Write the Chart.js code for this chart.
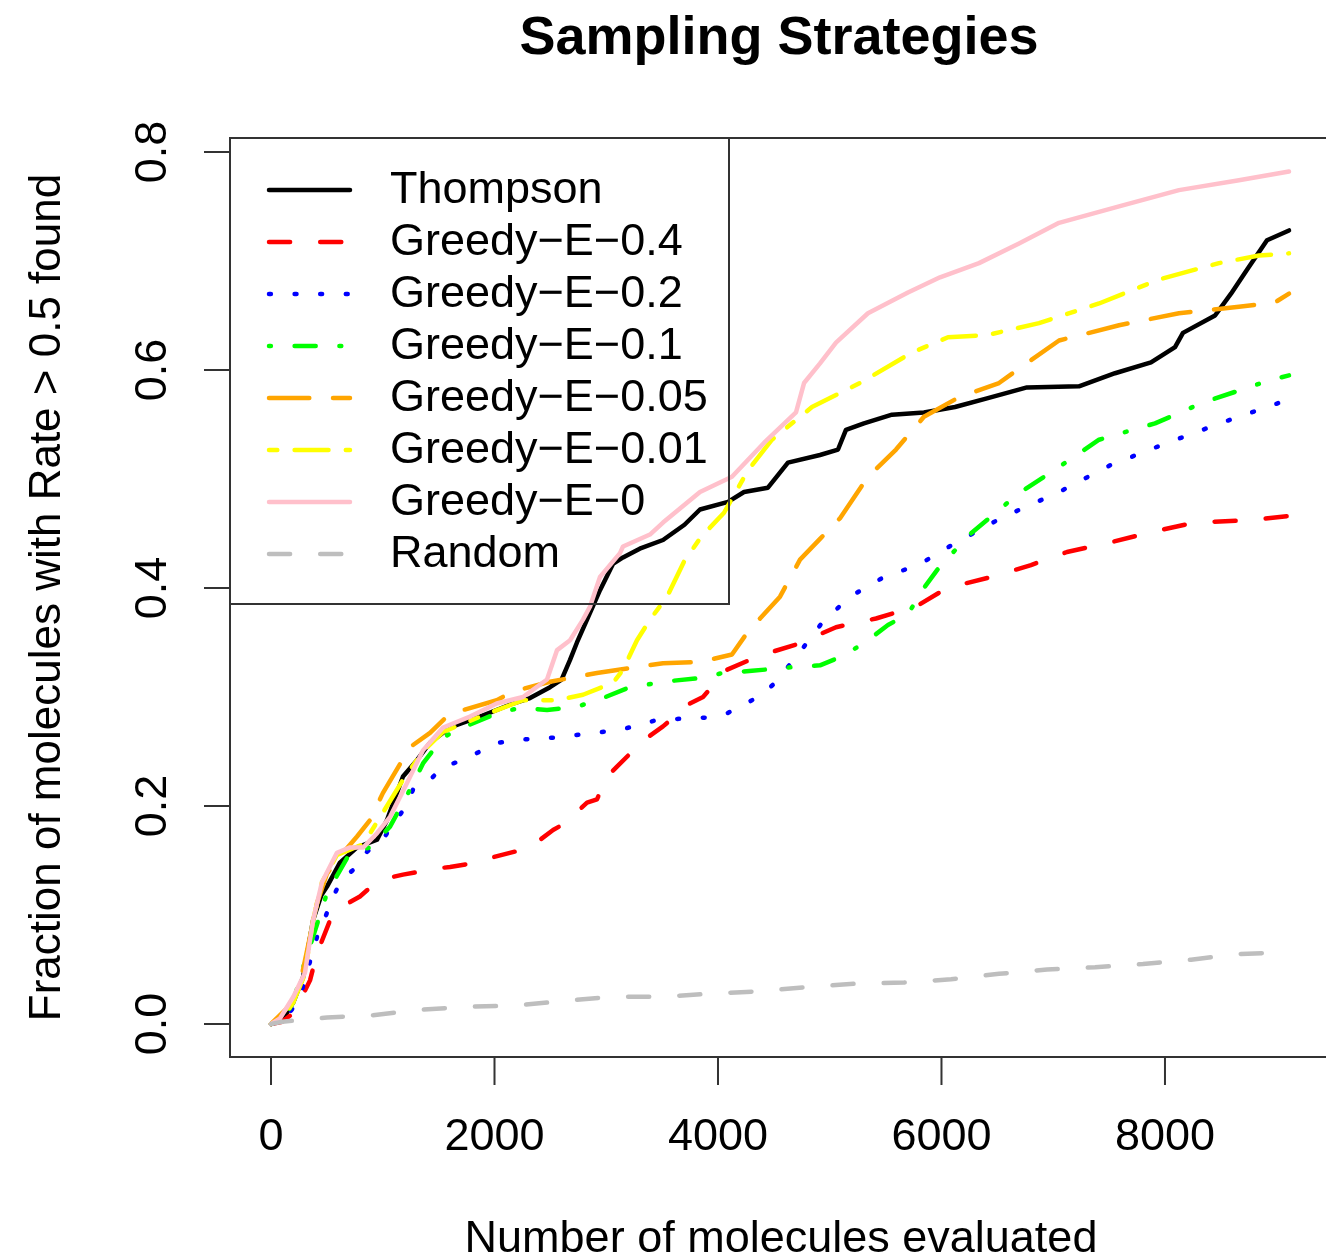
<!DOCTYPE html>
<html>
<head>
<meta charset="utf-8">
<script src="https://cdn.jsdelivr.net/npm/chart.js@4.4.1/dist/chart.umd.min.js"></script>
<style>
  html, body { margin: 0; padding: 0; background: #fff; overflow: hidden; }
  #wrap { width: 1326px; height: 1259px; }
</style>
</head>
<body>
<div id="wrap"><canvas id="c" width="1326" height="1259"></canvas></div>
<script>
// values: [molecules evaluated, fraction found]
const xTicks = [0, 2000, 4000, 6000, 8000];
const yTicks = [0, 0.2, 0.4, 0.6, 0.8];
const seriesNames = ['Thompson', 'Greedy\u2212E\u22120.4', 'Greedy\u2212E\u22120.2', 'Greedy\u2212E\u22120.1',
  'Greedy\u2212E\u22120.05', 'Greedy\u2212E\u22120.01', 'Greedy\u2212E\u22120', 'Random'];

const thompson = [[0,0],[100,0.003],[200,0.02],[287,0.043],[376,0.095],[450,0.118],[501,0.126],[617,0.148],[770,0.162],[949,0.169],[1038,0.187],[1181,0.227],[1306,0.242],[1423,0.258],[1602,0.272],[1870,0.282],[2165,0.294],[2318,0.299],[2497,0.309],[2600,0.316],[2676,0.334],[2738,0.35],[2828,0.371],[2944,0.398],[3060,0.422],[3150,0.428],[3300,0.436],[3508,0.444],[3700,0.458],[3839,0.472],[4090,0.479],[4233,0.488],[4447,0.492],[4626,0.515],[4913,0.522],[5074,0.527],[5145,0.545],[5306,0.551],[5557,0.559],[5843,0.561],[6121,0.566],[6407,0.574],[6765,0.584],[7230,0.585],[7553,0.597],[7875,0.607],[8090,0.621],[8161,0.634],[8448,0.65],[8591,0.67],[8734,0.692],[8913,0.719],[9110,0.728]];
const greedy04 = [[0,0],[100,0.002],[200,0.01],[277,0.025],[349,0.04],[412,0.065],[528,0.095],[590,0.105],[796,0.117],[886,0.125],[1092,0.135],[1181,0.137],[1512,0.143],[1602,0.144],[1897,0.149],[1987,0.153],[2255,0.16],[2318,0.162],[2524,0.178],[2613,0.183],[2828,0.203],[2917,0.206],[3007,0.227],[3096,0.236],[3213,0.248],[3302,0.258],[3508,0.273],[3749,0.294],[3866,0.3],[4081,0.325],[4376,0.338],[4698,0.348],[5056,0.364],[5414,0.372],[5772,0.383],[6050,0.4],[6443,0.41],[6801,0.421],[7123,0.433],[7517,0.442],[7911,0.452],[8269,0.46],[8734,0.462],[9110,0.466]];
const greedy02 = [[0,0],[100,0.002],[200,0.015],[260,0.025],[412,0.08],[501,0.102],[555,0.117],[644,0.134],[770,0.144],[859,0.158],[1002,0.169],[1092,0.184],[1199,0.198],[1271,0.215],[1423,0.224],[1540,0.236],[1718,0.242],[1870,0.25],[2031,0.258],[2246,0.261],[2452,0.262],[2658,0.264],[2873,0.267],[3060,0.269],[3257,0.273],[3454,0.279],[3660,0.28],[3884,0.281],[4081,0.285],[4233,0.293],[4376,0.301],[4501,0.312],[4716,0.339],[4931,0.368],[5181,0.392],[5468,0.409],[5808,0.422],[6103,0.44],[6550,0.465],[7052,0.488],[7517,0.513],[8018,0.533],[8519,0.552],[9110,0.573]];
const greedy01 = [[0,0],[100,0.003],[200,0.02],[260,0.043],[376,0.08],[501,0.12],[707,0.157],[886,0.162],[1065,0.181],[1244,0.215],[1360,0.239],[1540,0.263],[1718,0.272],[2020,0.285],[2228,0.29],[2470,0.288],[2738,0.291],[2971,0.299],[3186,0.308],[3508,0.314],[3812,0.317],[4045,0.322],[4304,0.324],[4626,0.327],[4913,0.329],[5128,0.338],[5342,0.352],[5521,0.366],[5700,0.376],[5843,0.4],[5987,0.42],[6264,0.45],[6694,0.487],[7052,0.511],[7410,0.536],[7911,0.551],[8340,0.57],[8949,0.591],[9110,0.595]];
const greedy005 = [[0,0],[200,0.02],[287,0.05],[412,0.111],[501,0.138],[644,0.157],[770,0.172],[886,0.187],[1002,0.212],[1244,0.254],[1423,0.267],[1602,0.285],[1718,0.288],[2020,0.297],[2165,0.305],[2497,0.314],[2917,0.322],[3508,0.331],[3839,0.332],[4125,0.339],[4269,0.36],[4376,0.372],[4555,0.392],[4734,0.426],[4913,0.445],[5092,0.464],[5342,0.502],[5593,0.527],[5843,0.557],[6157,0.575],[6515,0.588],[6801,0.609],[7052,0.627],[7589,0.641],[8125,0.652],[8662,0.658],[8984,0.662],[9110,0.67]];
const greedy001 = [[0,0],[100,0.004],[200,0.02],[300,0.045],[376,0.095],[456,0.13],[590,0.155],[707,0.16],[826,0.165],[1002,0.194],[1181,0.224],[1360,0.25],[1540,0.268],[1897,0.283],[2255,0.297],[2560,0.297],[2792,0.302],[3060,0.313],[3150,0.325],[3275,0.352],[3392,0.371],[3544,0.392],[3700,0.425],[3850,0.447],[4054,0.469],[4269,0.508],[4483,0.536],[4841,0.566],[5271,0.588],[5736,0.616],[6058,0.63],[6407,0.632],[6873,0.643],[7410,0.661],[7946,0.683],[8483,0.698],[8841,0.705],[9110,0.707]];
const greedy0 = [[0,0],[80,0.005],[200,0.025],[304,0.047],[376,0.095],[456,0.13],[590,0.157],[707,0.162],[826,0.162],[949,0.175],[1065,0.19],[1217,0.221],[1360,0.251],[1540,0.272],[1781,0.282],[2020,0.294],[2255,0.3],[2470,0.316],[2560,0.343],[2676,0.352],[2792,0.371],[2855,0.383],[2944,0.41],[3123,0.432],[3150,0.438],[3391,0.449],[3508,0.46],[3839,0.488],[4125,0.502],[4411,0.533],[4698,0.561],[4770,0.588],[4913,0.606],[5056,0.625],[5342,0.652],[5700,0.671],[5987,0.685],[6336,0.698],[6694,0.716],[7052,0.735],[7589,0.75],[8125,0.765],[8662,0.774],[9110,0.782]];
const random = [[0,0],[100,0.002],[501,0.006],[913,0.008],[1333,0.013],[1781,0.016],[2201,0.017],[2613,0.021],[3060,0.025],[3508,0.025],[3955,0.028],[4376,0.03],[4805,0.034],[5235,0.037],[5665,0.038],[6085,0.041],[6515,0.046],[6944,0.05],[7374,0.052],[7803,0.055],[8233,0.059],[8627,0.064],[9110,0.066]];

const seriesData = [thompson, greedy04, greedy02, greedy01, greedy005, greedy001, greedy0, random];
const seriesColors = ['#000000', '#ff0000', '#0000ff', '#00ff00', '#ffa500', '#ffff00', '#ffc0cb', '#bebebe'];
const seriesLty = ['', '44', '13', '1343', '73', '2262', '', '44'];

const LW = 4.5, UNIT = 6.4;
// R line type -> canvas dash (round caps eat LW from each dash)
function dashFor(lty) {
  if (!lty) return [];
  return lty.split('').map((c, i) => i % 2 === 0
    ? Math.max(0.5, +c * UNIT - LW)
    : +c * UNIT + LW);
}

const FONT = '"Liberation Sans", Arial, Helvetica, sans-serif';

const rDecor = {
  id: 'rDecor',
  afterDraw(chart) {
    const { ctx, chartArea: a, scales: { x, y } } = chart;
    ctx.save();
    ctx.setLineDash([]);
    ctx.strokeStyle = '#333';
    ctx.lineWidth = 2;
    ctx.lineCap = 'butt';

    // plot box (right side runs off the canvas)
    ctx.beginPath();
    ctx.moveTo(a.right + 5, a.top);
    ctx.lineTo(a.left, a.top);
    ctx.lineTo(a.left, a.bottom);
    ctx.lineTo(a.right + 5, a.bottom);
    ctx.stroke();

    // x axis
    ctx.fillStyle = '#000';
    ctx.font = '45px ' + FONT;
    ctx.textAlign = 'center';
    ctx.textBaseline = 'alphabetic';
    ctx.beginPath();
    ctx.moveTo(x.getPixelForValue(xTicks[0]), a.bottom);
    ctx.lineTo(x.getPixelForValue(xTicks[xTicks.length - 1]), a.bottom);
    xTicks.forEach(v => {
      const px = x.getPixelForValue(v);
      ctx.moveTo(px, a.bottom);
      ctx.lineTo(px, a.bottom + 28);
    });
    ctx.stroke();
    xTicks.forEach(v => ctx.fillText(String(v), x.getPixelForValue(v), 1150));

    // y axis
    ctx.beginPath();
    ctx.moveTo(a.left, y.getPixelForValue(yTicks[0]));
    ctx.lineTo(a.left, y.getPixelForValue(yTicks[yTicks.length - 1]));
    yTicks.forEach(v => {
      const py = y.getPixelForValue(v);
      ctx.moveTo(a.left - 26, py);
      ctx.lineTo(a.left, py);
    });
    ctx.stroke();
    yTicks.forEach(v => {
      ctx.save();
      ctx.translate(166, y.getPixelForValue(v));
      ctx.rotate(-Math.PI / 2);
      ctx.fillText(v.toFixed(1), 0, 0);
      ctx.restore();
    });

    // titles
    ctx.fillText('Number of molecules evaluated', 781, 1252);
    ctx.save();
    ctx.font = '44px ' + FONT;
    ctx.translate(60, (a.top + a.bottom) / 2);
    ctx.rotate(-Math.PI / 2);
    ctx.fillText('Fraction of molecules with Rate > 0.5 found', 0, 0);
    ctx.restore();
    ctx.font = 'bold 54px ' + FONT;
    ctx.fillText('Sampling Strategies', 779, 54);

    // legend (transparent, like R's default)
    ctx.lineWidth = 2;
    ctx.strokeStyle = '#333';
    ctx.strokeRect(a.left, a.top, 499, 466);
    ctx.font = '45px ' + FONT;
    ctx.textAlign = 'left';
    seriesNames.forEach((name, i) => {
      const ry = 190 + i * 52;
      ctx.save();
      ctx.strokeStyle = seriesColors[i];
      ctx.lineWidth = LW;
      ctx.lineCap = 'round';
      ctx.setLineDash(dashFor(seriesLty[i]));
      ctx.beginPath();
      ctx.moveTo(269, ry);
      ctx.lineTo(350, ry);
      ctx.stroke();
      ctx.restore();
      ctx.fillText(name, 390, ry + 13);
    });
    ctx.restore();
  }
};

const n = seriesNames.length;
new Chart(document.getElementById('c'), {
  type: 'line',
  data: {
    datasets: seriesNames.map((name, i) => ({
      label: name,
      data: seriesData[i].map(p => ({ x: p[0], y: p[1] })),
      borderColor: seriesColors[i],
      borderWidth: LW,
      borderDash: dashFor(seriesLty[i]),
      borderCapStyle: 'round',
      borderJoinStyle: 'round',
      pointRadius: 0,
      tension: 0,
      fill: false,
      order: n - i
    }))
  },
  options: {
    responsive: false,
    animation: false,
    devicePixelRatio: 1,
    layout: { padding: { left: 230, top: 138, right: 0, bottom: 202 } },
    plugins: { legend: { display: false }, tooltip: { enabled: false } },
    scales: {
      x: { type: 'linear', display: false, min: -367, max: 9441 },
      y: { type: 'linear', display: false, min: -0.0303, max: 0.8128 }
    }
  },
  plugins: [rDecor]
});
</script>
</body>
</html>
